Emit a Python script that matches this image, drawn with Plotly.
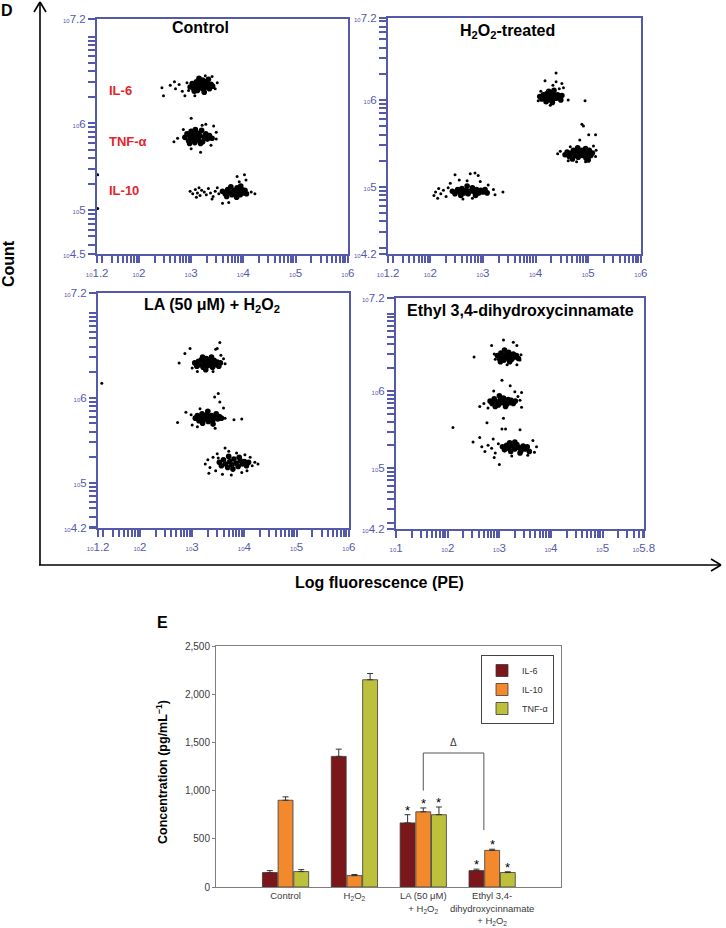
import math
import plotly.graph_objects as go

W, H = 726, 928

# ---------------- DATA ----------------
# Flow-cytometry panels: points as (log10 fluorescence, log10 count)
CONTROL_DENSE = [
    (2.98, 6.42), (3.02, 6.46), (3.05, 6.40), (3.08, 6.44), (3.10, 6.48), (3.12, 6.38), (3.14, 6.43),
    (3.16, 6.47), (3.18, 6.41), (3.20, 6.45), (3.22, 6.50), (3.24, 6.39), (3.26, 6.44), (3.28, 6.48),
    (3.30, 6.42), (3.32, 6.46), (3.35, 6.40), (3.38, 6.45), (3.41, 6.43), (3.15, 6.52), (3.25, 6.36),
    (3.06, 6.37), (3.33, 6.51),
    (2.88, 5.84), (2.92, 5.88), (2.95, 5.80), (2.98, 5.86), (3.00, 5.91), (3.02, 5.82), (3.05, 5.87),
    (3.07, 5.78), (3.10, 5.84), (3.12, 5.89), (3.14, 5.81), (3.17, 5.86), (3.20, 5.92), (3.22, 5.79),
    (3.25, 5.84), (3.28, 5.88), (3.31, 5.82), (3.35, 5.86), (3.40, 5.83), (3.08, 5.93), (3.18, 5.77),
    (2.97, 5.77),
    (3.60, 5.22), (3.65, 5.19), (3.70, 5.24), (3.74, 5.21), (3.78, 5.18), (3.82, 5.23), (3.85, 5.20),
    (3.88, 5.26), (3.91, 5.22), (3.94, 5.18), (3.97, 5.24), (4.00, 5.20), (4.03, 5.23), (3.87, 5.15),
    (3.76, 5.27), (3.95, 5.28), (4.06, 5.19), (3.68, 5.16),
]
CONTROL_SPARSE = [
    (2.44, 6.41), (2.47, 6.32), (2.60, 6.44), (2.68, 6.48), (2.70, 6.40), (2.77, 6.45), (2.83, 6.37),
    (2.88, 6.32), (2.92, 6.47), (3.07, 6.32), (3.27, 6.55), (3.40, 6.54), (3.46, 6.40), (3.50, 6.47),
    (2.95, 6.38),
    (2.74, 5.83), (2.67, 5.79), (3.00, 6.06), (3.21, 5.98), (3.28, 5.99), (3.43, 5.97), (3.48, 5.90),
    (3.48, 5.82), (3.18, 5.67), (3.00, 5.71), (2.85, 5.93), (3.38, 5.75),
    (2.98, 5.22), (3.03, 5.19), (3.08, 5.24), (3.12, 5.20), (3.17, 5.17), (3.20, 5.23), (3.25, 5.21),
    (3.29, 5.18), (3.33, 5.25), (3.37, 5.20), (3.42, 5.16), (3.46, 5.22), (3.50, 5.26), (3.53, 5.19),
    (3.15, 5.26), (3.40, 5.13), (3.88, 5.39), (4.02, 5.41), (4.05, 5.35), (3.60, 5.08), (3.72, 5.09),
    (4.15, 5.21), (4.22, 5.19), (3.92, 5.33), (3.10, 5.15), (1.21, 5.41), (1.21, 5.02),
]

H2O2_DENSE = [
    (4.08, 6.04), (4.12, 6.01), (4.15, 6.06), (4.18, 6.02), (4.21, 6.07), (4.24, 6.00), (4.27, 6.04),
    (4.30, 6.08), (4.33, 6.01), (4.36, 6.05), (4.39, 6.02), (4.42, 6.06), (4.45, 6.03), (4.48, 6.00),
    (4.25, 6.10), (4.35, 6.11), (4.20, 5.98), (4.32, 5.97), (4.50, 6.05),
    (4.56, 5.37), (4.60, 5.40), (4.64, 5.35), (4.68, 5.39), (4.72, 5.42), (4.75, 5.36), (4.78, 5.40),
    (4.81, 5.34), (4.84, 5.38), (4.87, 5.42), (4.90, 5.36), (4.93, 5.40), (4.96, 5.33), (4.99, 5.38),
    (5.02, 5.42), (5.05, 5.36), (5.08, 5.39), (4.80, 5.45), (4.95, 5.44), (4.70, 5.32), (5.00, 5.31),
    (2.42, 4.95), (2.47, 4.92), (2.52, 4.97), (2.56, 4.94), (2.60, 4.98), (2.64, 4.93), (2.68, 4.96),
    (2.72, 4.92), (2.76, 4.95), (2.80, 4.99), (2.84, 4.94), (2.88, 4.97), (2.92, 4.93), (2.96, 4.96),
    (3.00, 4.94), (3.04, 4.97), (2.70, 5.01), (2.86, 4.90), (2.58, 4.90), (3.08, 4.93),
]
H2O2_SPARSE = [
    (4.39, 6.31), (4.18, 6.22), (4.39, 6.21), (4.33, 6.17), (4.50, 6.19), (4.53, 6.14), (4.62, 6.00),
    (4.94, 5.99), (4.05, 5.99), (4.10, 6.10), (4.45, 6.13), (4.28, 5.94),
    (4.88, 5.72), (4.91, 5.70), (4.84, 5.54), (5.01, 5.60), (5.14, 5.60), (4.42, 5.38), (4.47, 5.41),
    (5.14, 5.35), (5.15, 5.42), (4.62, 5.30), (4.78, 5.29), (4.95, 5.29), (5.10, 5.47), (4.66, 5.46),
    (2.07, 4.90), (2.10, 4.94), (2.16, 4.98), (2.20, 4.92), (2.25, 4.96), (2.30, 4.89), (2.34, 4.99),
    (2.47, 5.14), (2.55, 5.08), (2.70, 5.07), (2.76, 5.15), (2.85, 5.16), (2.91, 5.13), (2.95, 5.06),
    (3.10, 5.02), (3.20, 4.97), (3.23, 4.91), (3.38, 4.94), (2.62, 4.86), (2.80, 4.87), (2.14, 4.87),
    (2.38, 5.04),
]

LA_DENSE = [
    (3.05, 6.41), (3.09, 6.37), (3.12, 6.43), (3.15, 6.39), (3.18, 6.45), (3.21, 6.36), (3.24, 6.41),
    (3.27, 6.46), (3.30, 6.38), (3.33, 6.43), (3.36, 6.40), (3.39, 6.36), (3.42, 6.44), (3.45, 6.39),
    (3.48, 6.42), (3.51, 6.37), (3.26, 6.33), (3.37, 6.48), (3.20, 6.48), (3.54, 6.41),
    (3.06, 5.76), (3.10, 5.79), (3.13, 5.73), (3.16, 5.78), (3.19, 5.81), (3.22, 5.74), (3.25, 5.77),
    (3.28, 5.80), (3.31, 5.72), (3.34, 5.76), (3.37, 5.79), (3.40, 5.74), (3.43, 5.78), (3.46, 5.81),
    (3.49, 5.75), (3.52, 5.78), (3.30, 5.84), (3.20, 5.70), (3.40, 5.69), (3.56, 5.76),
    (3.52, 5.24), (3.56, 5.20), (3.60, 5.27), (3.64, 5.22), (3.68, 5.18), (3.72, 5.25), (3.76, 5.21),
    (3.80, 5.28), (3.84, 5.23), (3.88, 5.19), (3.92, 5.26), (3.96, 5.22), (4.00, 5.25), (4.04, 5.20),
    (4.08, 5.24), (3.70, 5.31), (3.90, 5.30), (3.78, 5.16),
]
LA_SPARSE = [
    (2.75, 6.41), (2.86, 6.52), (2.96, 6.58), (3.53, 6.65), (3.48, 6.58), (3.63, 6.40), (3.00, 6.35),
    (3.60, 6.46), (3.40, 6.31), (3.10, 6.31), (3.55, 6.50), (3.45, 6.57),
    (2.72, 5.71), (2.88, 5.83), (3.00, 5.68), (3.50, 6.05), (3.43, 6.01), (3.53, 5.95), (3.63, 5.76),
    (3.80, 5.74), (3.95, 5.75), (3.10, 5.66), (3.44, 5.64), (3.60, 5.88), (3.15, 5.87), (2.98, 5.80),
    (3.25, 5.22), (3.30, 5.27), (3.34, 5.18), (3.40, 5.30), (3.45, 5.14), (3.48, 5.34), (3.63, 5.41),
    (3.70, 5.37), (3.85, 5.35), (4.01, 5.33), (4.11, 5.30), (4.15, 5.20), (4.20, 5.24), (4.26, 5.22),
    (3.58, 5.10), (3.75, 5.09), (3.95, 5.12), (4.05, 5.14), (3.32, 5.11), (3.50, 5.29), (1.27, 6.17),
]

ETHYL_DENSE = [
    (2.96, 6.46), (3.00, 6.42), (3.03, 6.49), (3.06, 6.44), (3.09, 6.40), (3.12, 6.47), (3.15, 6.43),
    (3.18, 6.50), (3.21, 6.45), (3.24, 6.41), (3.27, 6.48), (3.30, 6.44), (3.33, 6.46), (3.10, 6.53),
    (3.20, 6.38), (3.37, 6.42), (3.02, 6.38),
    (2.82, 5.87), (2.86, 5.84), (2.90, 5.90), (2.94, 5.86), (2.98, 5.82), (3.02, 5.89), (3.05, 5.85),
    (3.08, 5.91), (3.11, 5.86), (3.14, 5.83), (3.17, 5.89), (3.20, 5.85), (3.23, 5.88), (3.27, 5.84),
    (3.31, 5.87), (3.00, 5.94), (3.12, 5.80), (2.92, 5.80),
    (3.06, 5.28), (3.10, 5.24), (3.14, 5.30), (3.18, 5.26), (3.22, 5.22), (3.26, 5.29), (3.30, 5.25),
    (3.34, 5.31), (3.38, 5.27), (3.42, 5.23), (3.46, 5.29), (3.50, 5.25), (3.54, 5.28), (3.30, 5.34),
    (3.40, 5.20), (3.20, 5.33), (3.58, 5.22),
]
ETHYL_SPARSE = [
    (2.51, 6.44), (2.85, 6.59), (3.08, 6.66), (3.27, 6.63), (3.34, 6.59), (3.34, 6.34), (2.90, 6.48),
    (3.42, 6.47), (3.40, 6.40), (3.15, 6.34), (2.92, 6.41),
    (3.05, 6.14), (3.21, 6.07), (2.89, 6.00), (3.30, 5.99), (3.43, 5.98), (2.62, 5.80), (2.70, 5.84),
    (3.43, 5.79), (3.40, 5.88), (3.08, 5.65), (2.78, 5.78), (3.36, 5.93),
    (2.10, 5.53), (2.62, 5.40), (2.49, 5.34), (2.66, 5.28), (2.72, 5.22), (2.78, 5.30), (2.85, 5.26),
    (2.92, 5.20), (2.98, 5.32), (2.76, 5.59), (3.05, 5.51), (3.12, 5.51), (3.40, 5.50), (3.65, 5.36),
    (3.72, 5.28), (3.68, 5.21), (3.00, 5.05), (2.90, 5.14), (3.24, 5.16), (3.55, 5.17), (2.88, 5.38),
]

# Bar chart (panel E)
CATEGORIES = ["Control", "H<sub>2</sub>O<sub>2</sub>", "LA (50 μM)<br>+ H<sub>2</sub>O<sub>2</sub>",
              "Ethyl 3,4-<br>dihydroxycinnamate<br>+ H<sub>2</sub>O<sub>2</sub>"]
IL6 = [150, 1355, 665, 170]
IL6_ERR = [20, 75, 85, 15]
IL10 = [900, 118, 780, 380]
IL10_ERR = [35, 12, 40, 12]
TNF = [160, 2150, 750, 150]
TNF_ERR = [20, 65, 80, 8]
IL6_SIG = [0, 0, 1, 1]
IL10_SIG = [0, 0, 1, 1]
TNF_SIG = [0, 0, 1, 1]
BRACKET_X = [2.0, 2.88]
BRACKET_TOP = 1390
BRACKET_LEGS = [1000, 590]

# ---------------- HELPERS ----------------
def px(x):
    return x / W

def py(y):
    return 1 - y / H

BLUE = "#5459aa"
FONT = "Liberation Sans, Arial, sans-serif"

def lab(t):
    return f"<span style='font-size:6px'>10</span>{t}"

def log_ticks(lo, hi, labels):
    vals, texts = [], []
    for n in range(int(math.floor(lo)), int(math.ceil(hi)) + 1):
        for k in range(1, 10):
            lv = math.log10(k * 10 ** n)
            if lo - 1e-9 <= lv <= hi + 1e-9:
                vals.append(k * 10 ** n)
                texts.append("")
    for e, t in labels.items():
        v = 10 ** e
        found = False
        for i, vv in enumerate(vals):
            if abs(math.log10(vv) - e) < 1e-6:
                texts[i] = lab(t)
                found = True
        if not found:
            vals.append(v)
            texts.append(lab(t))
    return vals, texts

fig = go.Figure()

panels = [
    ("", CONTROL_DENSE, CONTROL_SPARSE, (1.2, 6.0), {1.2: "1.2", 2: "2", 3: "3", 4: "4", 5: "5", 6: "6"},
     (4.5, 7.2), {4.5: "4.5", 5: "5", 6: "6", 7.2: "7.2"}, (97, 19, 348, 254)),
    ("2", H2O2_DENSE, H2O2_SPARSE, (1.2, 6.0), {1.2: "1.2", 2: "2", 3: "3", 4: "4", 5: "5", 6: "6"},
     (4.23, 6.94), {4.23: "4.2", 5: "5", 6: "6", 6.94: "7.2"}, (388, 18, 641, 254)),
    ("3", LA_DENSE, LA_SPARSE, (1.2, 6.0), {1.2: "1.2", 2: "2", 3: "3", 4: "4", 5: "5", 6: "6"},
     (4.47, 7.23), {4.47: "4.2", 5: "5", 6: "6", 7.23: "7.2"}, (98, 293, 349, 528)),
    ("4", ETHYL_DENSE, ETHYL_SPARSE, (1.0, 5.8), {1: "1", 2: "2", 3: "3", 4: "4", 5: "5", 5.8: "5.8"},
     (4.22, 7.2), {4.22: "4.2", 5: "5", 6: "6", 7.2: "7.2"}, (396, 298, 644, 529)),
]

layout_axes = {}
for sfx, dense, sparse, xr, xl, yr, yl, box in panels:
    xa = "x" + sfx
    ya = "y" + sfx
    for pts, size in ((sparse, 3.0), (dense, 5.6)):
        fig.add_trace(go.Scatter(
            x=[10 ** p[0] for p in pts], y=[10 ** p[1] for p in pts],
            mode="markers", marker=dict(color="black", size=size, line=dict(width=0)),
            xaxis=xa, yaxis=ya, showlegend=False, hoverinfo="skip"))
    xv, xt = log_ticks(xr[0], xr[1], xl)
    yv, yt = log_ticks(yr[0], yr[1], yl)
    l, t, r, b = box
    common = dict(type="log", showgrid=False, zeroline=False, showline=True, linecolor=BLUE,
                  linewidth=2, mirror=True, ticks="outside", tickcolor=BLUE, tickwidth=1.5,
                  ticklen=7, tickfont=dict(family=FONT, size=11.5, color=BLUE), tickmode="array",
                  automargin=False)
    layout_axes["xaxis" + sfx] = dict(common, domain=[px(l), px(r)], anchor=ya,
                                      range=[xr[0] - 0.003, xr[1] + 0.003], tickvals=xv, ticktext=xt,
                                      tickangle=0)
    layout_axes["yaxis" + sfx] = dict(common, domain=[py(b), py(t)], anchor=xa,
                                      range=[yr[0] - 0.003, yr[1] + 0.003], tickvals=yv, ticktext=yt)

# Bar chart
bar_specs = [("IL-6", IL6, IL6_ERR, "#7b171a"), ("IL-10", IL10, IL10_ERR, "#f2892d"),
             ("TNF-α", TNF, TNF_ERR, "#bdc03b")]
for name, vals, errs, col in bar_specs:
    fig.add_trace(go.Bar(
        x=list(range(len(CATEGORIES))), y=vals, name=name, xaxis="x5", yaxis="y5",
        marker=dict(color=col, line=dict(color="#3a3a3a", width=0.8)),
        error_y=dict(type="data", array=errs, arrayminus=[0] * len(errs), symmetric=False,
                     color="#333333", thickness=1, width=3),
        hoverinfo="skip"))

layout_axes["xaxis5"] = dict(domain=[px(216), px(561)], anchor="y5", range=[-1.01, 4.0],
                             tickmode="array", tickvals=list(range(len(CATEGORIES))), ticktext=CATEGORIES,
                             showgrid=False, zeroline=False, showline=True, linecolor="#7f7f7f",
                             linewidth=1, mirror=True, ticks="", tickangle=0, automargin=False,
                             tickfont=dict(family=FONT, size=9.5, color="#3a3a3a"))
layout_axes["yaxis5"] = dict(domain=[py(887), py(646)], anchor="x5", range=[0, 2500],
                             tickmode="array", tickvals=[0, 500, 1000, 1500, 2000, 2500],
                             tickformat=",", showgrid=False, zeroline=False, showline=True,
                             linecolor="#7f7f7f", linewidth=1, mirror=True, ticks="outside",
                             ticklen=3, tickcolor="#7f7f7f", automargin=False,
                             tickfont=dict(family=FONT, size=10, color="#3a3a3a"))

annotations = []
shapes = []

def ann(text, x, y, size=16, color="black", xanchor="center", yanchor="middle", **kw):
    d = dict(x=px(x), y=py(y), xref="paper", yref="paper", text=text, showarrow=False,
             xanchor=xanchor, yanchor=yanchor, font=dict(family=FONT, size=size, color=color))
    d.update(kw)
    return d

# stars above significant bars
offsets = [-0.228, 0.0, 0.228]
for j, (vals, errs, sig) in enumerate(((IL6, IL6_ERR, IL6_SIG), (IL10, IL10_ERR, IL10_SIG),
                                       (TNF, TNF_ERR, TNF_SIG))):
    for i in range(len(vals)):
        if sig[i]:
            annotations.append(dict(x=i + offsets[j], y=vals[i] + errs[i], xref="x5", yref="y5",
                                    text="*", showarrow=False, xanchor="center", yanchor="bottom",
                                    yshift=-5, font=dict(family=FONT, size=13, color="black")))

# significance bracket
bx0, bx1 = BRACKET_X
for xx, yb in ((bx0, BRACKET_LEGS[0]), (bx1, BRACKET_LEGS[1])):
    shapes.append(dict(type="line", xref="x5", yref="y5", x0=xx, x1=xx, y0=yb, y1=BRACKET_TOP,
                       line=dict(color="#555555", width=1)))
shapes.append(dict(type="line", xref="x5", yref="y5", x0=bx0, x1=bx1, y0=BRACKET_TOP, y1=BRACKET_TOP,
                   line=dict(color="#555555", width=1)))
annotations.append(dict(x=(bx0 + bx1) / 2, y=BRACKET_TOP, xref="x5", yref="y5", text="Δ",
                        showarrow=False, xanchor="center", yanchor="bottom", yshift=3,
                        font=dict(family=FONT, size=10, color="#333333")))

# y title for bar chart
annotations.append(ann("<b>Concentration (pg/mL<sup>−1</sup>)</b>", 162, 772, size=12.5, textangle=-90))

# panel titles
annotations += [
    ann("<b>Control</b>", 200, 27.5),
    ann("<b>H<sub>2</sub>O<sub>2</sub>-treated</b>", 507, 32),
    ann("<b>LA (50 μM) + H<sub>2</sub>O<sub>2</sub></b>", 212, 306),
    ann("<b>Ethyl 3,4-dihydroxycinnamate</b>", 520, 310),
]

# red cytokine labels
for txt, yy in (("IL-6", 90.5), ("TNF-α", 141), ("IL-10", 190)):
    annotations.append(ann(f"<b>{txt}</b>", 107, yy, size=13, color="#e2262c", xanchor="left"))

# panel letters and outer axis titles
annotations += [
    ann("<b>D</b>", 7, 10),
    ann("<b>E</b>", 162, 622),
    ann("<b>Count</b>", 8, 264, textangle=-90),
    ann("<b>Log fluorescence (PE)</b>", 380, 582),
]

# outer L-shaped arrows
def pline(x0, y0, x1, y1, w=1.6):
    return dict(type="line", xref="paper", yref="paper", x0=px(x0), y0=py(y0), x1=px(x1), y1=py(y1),
                line=dict(color="black", width=w))

shapes += [
    pline(40, 565, 40, 2), pline(39, 565, 721, 565),
    pline(34, 12, 40, 2), pline(46, 12, 40, 2),
    pline(711, 559, 721, 565), pline(711, 571, 721, 565),
]

fig.update_layout(
    width=W, height=H, margin=dict(l=0, r=0, t=0, b=0, autoexpand=False),
    paper_bgcolor="white", plot_bgcolor="white",
    font=dict(family=FONT, color="black"),
    barmode="group", bargap=0.317, bargroupgap=0.05,
    showlegend=True,
    legend=dict(x=px(481), y=py(655), xanchor="left", yanchor="top", bgcolor="white",
                bordercolor="#444444", borderwidth=1, font=dict(family=FONT, size=9, color="#333333"),
                itemwidth=30, tracegroupgap=0),
    annotations=annotations, shapes=shapes,
    **layout_axes,
)

fig.write_html("out.html", config={"displayModeBar": False},
               post_script="document.body.style.margin='0px';document.body.style.overflow='hidden';")
